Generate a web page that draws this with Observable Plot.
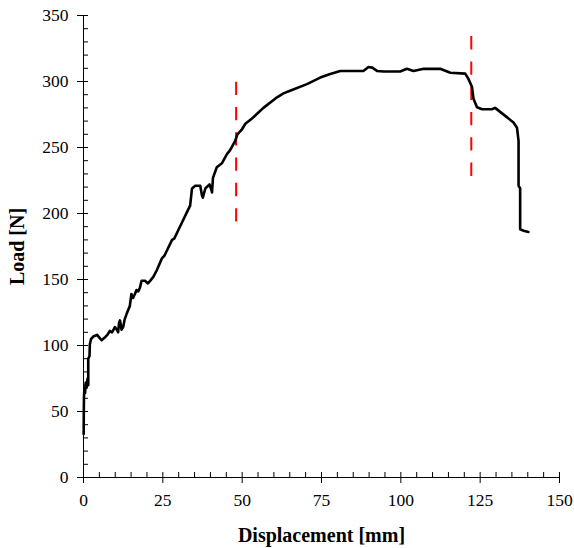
<!DOCTYPE html>
<html>
<head>
<meta charset="utf-8">
<script src="https://cdn.jsdelivr.net/npm/d3@7"></script>
<script src="https://cdn.jsdelivr.net/npm/@observablehq/plot@0.6"></script>
<style>
  html, body { margin: 0; padding: 0; background: #fff; }
  #chart svg [aria-label="x-axis label"], #chart svg [aria-label="y-axis label"] { font-weight: bold; font-size: 20px; }
</style>
</head>
<body>
<div id="chart"></div>
<script>
// Displacement [mm] and Load [N]
const displacement = [0.05, 0.1, 0.15, 0.3, 0.5, 0.7, 1.0, 1.3, 1.5, 1.5, 1.9, 2.0, 2.4, 3.2, 4.3, 5.0, 5.7, 6.7, 7.5, 8.3,
  9.0, 9.9, 10.5, 10.9, 11.2, 11.5, 12.0, 12.5, 13.0, 13.6, 14.6, 15.1, 15.6, 16.2, 16.7, 17.3, 17.8, 18.3, 19.4, 20.3,
  21.0, 22.0, 23.1, 24.7, 25.5, 26.3, 27.9, 28.6, 29.4, 31.0, 32.6, 33.6, 34.2, 35.2, 36.8, 37.3, 37.6, 38.4, 39.7, 40.3,
  40.5, 40.8, 42.0, 43.6, 45.2, 46.2, 47.8, 48.5, 50.0, 51.0, 53.1, 56.7, 61.0, 63.0, 65.1, 70.4, 74.6, 77.5, 80.9, 88.2,
  89.8, 91.0, 92.5, 94.5, 99.8, 101.9, 104.0, 107.2, 112.4, 115.6, 120.3, 121.3, 122.4, 122.9, 124.0, 125.6, 128.7, 129.7,
  131.3, 133.4, 135.5, 136.6, 137.1, 137.1, 137.6, 137.6, 138.7, 140.2];
const load = [33, 50, 61, 68, 64, 72, 68, 75, 70, 90, 92, 101, 105, 107, 108, 106, 104, 106, 108, 111,
  110, 114, 112, 110, 117, 119, 112, 114, 120, 124, 130, 139, 136, 139, 142, 141, 144, 149, 149, 147,
  149, 152, 157, 166, 168, 172, 180, 181, 185, 193, 201, 206, 219, 221, 221, 214, 212, 219, 222, 218,
  216, 227, 235, 238, 245, 248, 255, 260, 264, 268, 272, 280, 288, 291, 293, 298, 303, 305.5, 308, 308,
  311, 310.5, 308, 307.6, 307.6, 309.6, 308, 309.6, 309.6, 306.6, 306, 302, 296, 287, 280.5, 279, 279, 280,
  277, 273, 269, 265, 255, 221, 219, 188, 187, 186];

// Red dashed marker lines
const markerX = [48.1, 122.2];
const markerTop = [299.5, 334];
const markerBottom = [192.2, 226.3];

// Ticks
const xMajorTicks = [0, 25, 50, 75, 100, 125, 150];
const xAllTicks = d3.range(0, 151, 5);
const yMajorTicks = [0, 50, 100, 150, 200, 250, 300, 350];
const yAllTicks = d3.range(0, 351, 10);

const W = 574, H = 548;
const mL = 83, mR = 15, mT = 15, mB = 71;
const plotW = W - mL - mR, plotH = H - mT - mB;

const curve = displacement.map((x, i) => ({x, y: load[i]}));
const markers = markerX.map((x, i) => ({x, y1: markerTop[i], y2: markerBottom[i]}));

const chart = Plot.plot({
  width: W, height: H,
  marginLeft: mL, marginRight: mR, marginTop: mT, marginBottom: mB,
  x: {domain: [0, 150]},
  y: {domain: [0, 350]},
  style: {fontFamily: "'Liberation Serif', 'Times New Roman', serif", fontSize: "17.5px", color: "#000", background: "#fff"},
  marks: [
    Plot.axisX({ticks: xMajorTicks, tickSize: 6, tickPadding: 10, tickFormat: d => String(d),
      label: "Displacement [mm]", labelAnchor: "center", labelOffset: 64, labelArrow: "none"}),
    Plot.axisY({ticks: yMajorTicks, tickSize: 6, tickPadding: 9, tickFormat: d => String(d),
      label: "Load [N]", labelAnchor: "center", labelOffset: 74, labelArrow: "none"}),
    Plot.tickX(xAllTicks, {x: d => d, insetTop: plotH - 5, stroke: "#000", strokeWidth: 1}),
    Plot.tickY(yAllTicks, {y: d => d, insetRight: plotW - 5, stroke: "#000", strokeWidth: 1}),
    Plot.ruleX([0], {stroke: "#000", strokeWidth: 1}),
    Plot.ruleY([0], {stroke: "#000", strokeWidth: 1}),
    Plot.ruleX(markers, {x: "x", y1: "y1", y2: "y2", stroke: "#ff0000", strokeWidth: 2, strokeDasharray: "13.3,12"}),
    Plot.line(curve, {x: "x", y: "y", stroke: "#000", strokeWidth: 2.6, strokeLinejoin: "round"})
  ]
});
document.getElementById("chart").appendChild(chart);
</script>
</body>
</html>
